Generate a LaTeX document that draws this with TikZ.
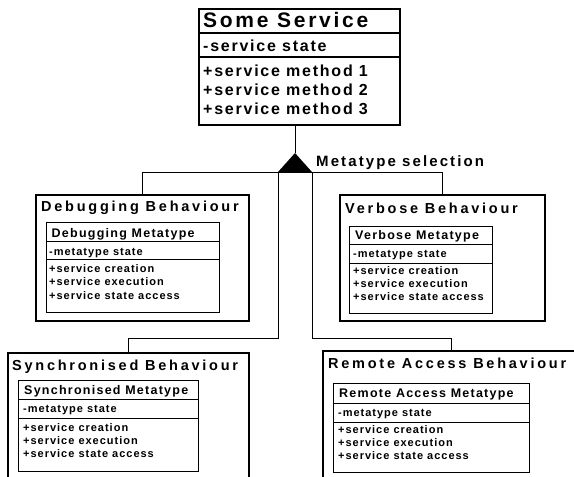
\documentclass[tikz,border=0pt]{standalone}
\usepackage{fontspec}
\setmainfont{Liberation Sans}
\newfontfamily\fTitle{Liberation Sans}[LetterSpace=13]
\newfontfamily\fBeh{Liberation Sans}[LetterSpace=19]
\newfontfamily\fMeta{Liberation Sans}[LetterSpace=10]
\newfontfamily\fSmall{Liberation Sans}[LetterSpace=9]
\newfontfamily\fSel{Liberation Sans}[LetterSpace=14]
\newfontfamily\fMeth{Liberation Sans}[LetterSpace=11]
\begin{document}
\begin{tikzpicture}[x=1pt,y=-1pt,
  lbl/.style={anchor=base west, inner sep=0pt, text=black},
  svctitle/.style={lbl, font=\fTitle\bfseries\fontsize{21}{25}\selectfont},
  svctext/.style={lbl, font=\fMeth\bfseries\fontsize{16}{19}\selectfont},
  seltext/.style={lbl, font=\fSel\bfseries\fontsize{15}{18}\selectfont},
  behtitle/.style={lbl, font=\fBeh\bfseries\fontsize{14.5}{17}\selectfont},
  metatitle/.style={lbl, font=\fMeta\bfseries\fontsize{12.5}{15}\selectfont},
  smalltext/.style={lbl, font=\fSmall\bfseries\fontsize{11}{13}\selectfont},
  thickbox/.style={draw, line width=2pt, rectangle, anchor=north west, inner sep=0pt},
  clsbox/.style={draw, line width=1pt, rectangle, anchor=north west, inner sep=0pt},
  thickdiv/.style={line width=1.6pt},
  thindiv/.style={line width=1pt},
  conn/.style={line width=1pt}]
\clip (0,0) rectangle (574,477);

% ---------- Some Service ----------
\node[thickbox, minimum width=201, minimum height=116] (svc) at (198,8) {};
\draw[thickdiv] (svc.west |- 0,33) -- (svc.east |- 0,33);
\draw[thickdiv] (svc.west |- 0,57) -- (svc.east |- 0,57);
\node[svctitle] (svcname) at (203,27) {Some Service};
\node[svctext] (svcstate) at (203,51) {-service state};
\node[svctext] (svcm1) at (203,76.5) {+service method 1};
\node[svctext] (svcm2) at (203,95.3) {+service method 2};
\node[svctext] (svcm3) at (203,114) {+service method 3};

% ---------- Metatype selection ----------
\coordinate (apex) at (295,153);
\coordinate (bl) at (278,172);
\coordinate (br) at (312,172);
\draw[conn] (apex |- svc.south) -- (apex);
\fill (apex) -- (bl) -- (br) -- cycle;
\node[seltext] (sel) at (316,166) {Metatype selection};

% ---------- Debugging ----------
\node[thickbox, minimum width=213, minimum height=126] (dbg) at (35,194) {};
\node[behtitle] (dbgname) at (41,211) {Debugging Behaviour};
\node[clsbox, minimum width=173, minimum height=90] (dbgc) at (46,222) {};
\draw[thindiv] (dbgc.west |- 0,241) -- (dbgc.east |- 0,241);
\draw[thindiv] (dbgc.west |- 0,259) -- (dbgc.east |- 0,259);
\node[metatitle] (dbgct) at (51.5,237) {Debugging Metatype};
\node[smalltext] (dbgcs) at (49,255) {-metatype state};
\node[smalltext] (dbgm1) at (49,272.7) {+service creation};
\node[smalltext] (dbgm2) at (49,285.9) {+service execution};
\node[smalltext] (dbgm3) at (49,299.1) {+service state access};

% ---------- Verbose ----------
\node[thickbox, minimum width=205, minimum height=126] (vrb) at (339,194) {};
\node[behtitle] (vrbname) at (345,213) {Verbose Behaviour};
\node[clsbox, minimum width=143, minimum height=87] (vrbc) at (349,226) {};
\draw[thindiv] (vrbc.west |- 0,244) -- (vrbc.east |- 0,244);
\draw[thindiv] (vrbc.west |- 0,263) -- (vrbc.east |- 0,263);
\node[metatitle] (vrbct) at (355,239.5) {Verbose Metatype};
\node[smalltext] (vrbcs) at (353,257.5) {-metatype state};
\node[smalltext] (vrbm1) at (353,274) {+service creation};
\node[smalltext] (vrbm2) at (353,287.3) {+service execution};
\node[smalltext] (vrbm3) at (353,300.6) {+service state access};

% ---------- Synchronised ----------
\node[thickbox, minimum width=241, minimum height=124.5] (syn) at (7,352) {};
\node[behtitle] (synname) at (12,370) {Synchronised Behaviour};
\node[clsbox, minimum width=180, minimum height=91] (sync) at (18,380) {};
\draw[thindiv] (sync.west |- 0,399) -- (sync.east |- 0,399);
\draw[thindiv] (sync.west |- 0,418) -- (sync.east |- 0,418);
\node[metatitle] (synct) at (24,394.5) {Synchronised Metatype};
\node[smalltext] (syncs) at (23,412.5) {-metatype state};
\node[smalltext] (synm1) at (23,431) {+service creation};
\node[smalltext] (synm2) at (23,444.2) {+service execution};
\node[smalltext] (synm3) at (23,457.4) {+service state access};

% ---------- Remote Access ----------
\node[thickbox, minimum width=256, minimum height=130] (rem) at (322,350) {};
\node[behtitle] (remname) at (328,368) {Remote Access Behaviour};
\node[clsbox, minimum width=196, minimum height=89] (remc) at (333,383) {};
\draw[thindiv] (remc.west |- 0,403) -- (remc.east |- 0,403);
\draw[thindiv] (remc.west |- 0,422) -- (remc.east |- 0,422);
\node[metatitle] (remct) at (339,397.5) {Remote Access Metatype};
\node[smalltext] (remcs) at (338,416) {-metatype state};
\node[smalltext] (remm1) at (338,433.3) {+service creation};
\node[smalltext] (remm2) at (338,446.5) {+service execution};
\node[smalltext] (remm3) at (338,459.7) {+service state access};

% ---------- connectors ----------
\draw[conn] (dbg.north) -- (dbg.north |- bl) -| (vrb.north);
\draw[conn] (bl) -- (bl |- 0,338) -| (syn.north);
\draw[conn] (br) -- (br |- 0,338) -| (rem.north);
\end{tikzpicture}
\end{document}
